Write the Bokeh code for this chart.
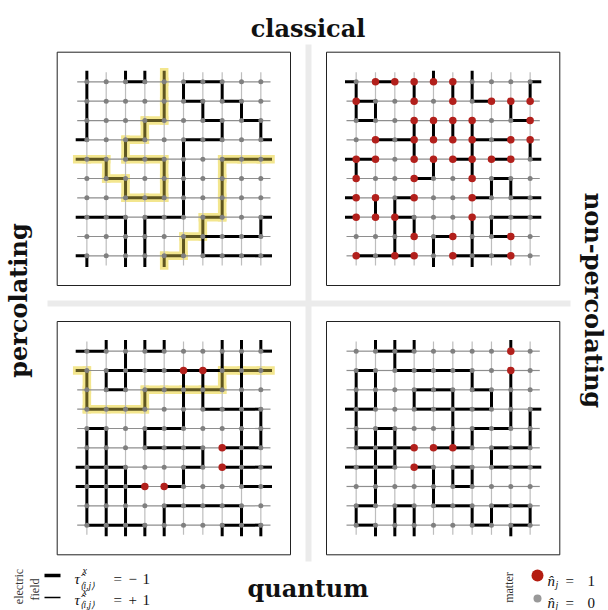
import numpy as np
from bokeh.plotting import figure
from bokeh.models import Range1d
from bokeh.core.properties import value
from bokeh.embed import file_html
from bokeh.resources import INLINE

# ---------------- data ----------------
# H rows: char c of row r -> link (r,c)-(r,c+1), c=9 wraps; '1' = tau^x = -1
# V rows: char c of row r -> link (r,c)-(r+1,c), r=9 wraps
# N rows: char c of row r -> n_j = 1
TL_H = ["0010011000", "0000010100", "0001001010", "0010011001", "1011000111",
        "0100000000", "0011000000", "1101101001", "0000011110", "0000101111"]
TL_V = ["1000110100", "1000101010", "1001000101", "0010010000", "0100110100",
        "0010110100", "0000010100", "0011001001", "0011011000", "1011100000"]
TL_N = ["0000000000"] * 10
TL_YH = ["0000000000", "0000000000", "0001000000", "0010000000", "1011000111",
         "0100000000", "0011000000", "0000001000", "0000010000", "0000100000"]
TL_YV = ["0000100000", "0000100000", "0001000000", "0010000000", "0100100100",
         "0010100100", "0000000100", "0000001000", "0000010000", "0000100000"]

TR_H = ["0100000001", "1000001000", "1000000010", "0110001100", "1000010101",
        "0001000100", "0010001011", "0010000111", "0000100100", "1110011100"]
TR_V = ["1001011001", "1100000010", "0001111000", "0001001001", "1000101000",
        "0000000110", "0110000000", "0011001100", "0010101000", "0000101000"]
TR_N = ["0111110000", "1001010111", "0001111001", "0101111011", "1101111110",
        "1001001000", "1101001000", "1110001000", "0001010010", "1011010010"]

BL_H = ["1001000001", "0111111111", "0101111000", "1110001110", "1001100000",
        "0001110110", "1100010111", "1110100011", "0000111100", "1110000110"]
BL_V = ["0010000110", "1110011110", "1001011010", "0000010011", "1101000011",
        "1100001010", "1110010010", "1110000000", "1110100010", "0111100111"]
BL_N = ["0000000000", "0000011000", "0000000000", "0000000000", "0000000000",
        "0000000100", "0000000100", "0001100000", "0000000000", "0000000000"]
BL_YH = ["0000000000", "0000000111", "0001111000", "1110000000", "0000000000",
         "0000000000", "0000000000", "0000000000", "0000000000", "0000000000"]
BL_YV = ["0000000000", "1000000100", "1001000000", "0000000000", "0000000000",
         "0000000000", "0000000000", "0000000000", "0000000000", "0000000000"]

BR_H = ["0110000000", "1011110000", "0001101000", "1001111001", "0100001100",
        "1110110110", "1101010111", "0000010000", "1010110110", "1000001010"]
BR_V = ["0010000000", "1100001010", "1101010110", "1000010011", "1110011001",
        "0110000100", "0100111000", "0100100000", "1011001101", "0111000010"]
BR_N = ["0000000010", "0000000010", "0000000000", "0000000000", "0000000000",
        "0001110000", "0001000000", "0000000000", "0000000000", "0000000000"]

EMPTY = ["0000000000"] * 10

TITLES = ["classical", "quantum"]
SIDE_TITLES = ["percolating", "non-percolating"]
LEGEND_FIELD = ["electric", "field"]
LEGEND_MATTER = ["matter"]
FIELD_SIGNS = ["\u2212", "+"]
FIELD_VALUES = ["1", "1"]
MATTER_VALUES = ["1", "0"]

# ---------------- layout ----------------
W, H = 608, 610
S = 19.33          # lattice spacing (px)
FR = 233.3         # panel frame size (px)
M = (FR - 9 * S) / 2
PX = [56.7, 326.0]
PY = [51.7, 321.0]

BLACK = "#000000"
OLIVE = "#5e5520"
YELLOW = "#f3e68e"
RED = "#b2201c"
GRAY = "#808080"
HGRID = "#8e8e8e"
VGRID = "#bdbdbd"

p = figure(width=W, height=H, x_range=Range1d(0, W), y_range=Range1d(H, 0),
           output_backend="svg", toolbar_location=None, min_border=0)
p.axis.visible = False
p.grid.visible = False
p.outline_line_color = None
p.background_fill_color = "white"
p.border_fill_color = "white"

# separators
p.quad(left=[305.0, 47.0], right=[311.0, 570.0], top=[44.0, 300.0], bottom=[561.0, 306.0],
       fill_color="#ebebeb", line_color=None)


def segs(Hs, Vs, ox, oy):
    d = dict(x0=[], y0=[], x1=[], y1=[])

    def add(c0, r0, c1, r1):
        d["x0"].append(ox + M + c0 * S); d["y0"].append(oy + M + r0 * S)
        d["x1"].append(ox + M + c1 * S); d["y1"].append(oy + M + r1 * S)

    for r, row in enumerate(Hs):
        for c, ch in enumerate(row):
            if ch == "1":
                if c < 9:
                    add(c, r, c + 1, r)
                else:
                    add(9, r, 9.5, r); add(-0.5, r, 0, r)
    for r, row in enumerate(Vs):
        for c, ch in enumerate(row):
            if ch == "1":
                if r < 9:
                    add(c, r, c, r + 1)
                else:
                    add(c, 9, c, 9.5); add(c, -0.5, c, 0)
    return d


def minus(A, B):
    return ["".join("1" if a == "1" and b == "0" else "0" for a, b in zip(ra, rb)) for ra, rb in zip(A, B)]


panels = [
    (PX[0], PY[0], TL_H, TL_V, TL_N, TL_YH, TL_YV),
    (PX[1], PY[0], TR_H, TR_V, TR_N, EMPTY, EMPTY),
    (PX[0], PY[1], BL_H, BL_V, BL_N, BL_YH, BL_YV),
    (PX[1], PY[1], BR_H, BR_V, BR_N, EMPTY, EMPTY),
]

FULL = ["1111111111"] * 10
for ox, oy, Hs, Vs, Ns, YH, YV in panels:
    p.quad(left=[ox], right=[ox + FR], top=[oy], bottom=[oy + FR],
           fill_color="white", line_color="#222222", line_width=1)
    yd = segs(YH, YV, ox, oy)
    p.segment(**yd, line_color=YELLOW, line_width=8.5, line_cap="square")
    p.segment(**segs(EMPTY, FULL, ox, oy), line_color=VGRID, line_width=1.2)
    p.segment(**segs(FULL, EMPTY, ox, oy), line_color=HGRID, line_width=1.2)
    p.segment(**segs(minus(Hs, YH), minus(Vs, YV), ox, oy), line_color=BLACK,
              line_width=3, line_cap="square")
    p.segment(**yd, line_color=OLIVE, line_width=3, line_cap="square")
    gx, gy, rx, ry = [], [], [], []
    for r, row in enumerate(Ns):
        for c, ch in enumerate(row):
            (rx if ch == "1" else gx).append(ox + M + c * S)
            (ry if ch == "1" else gy).append(oy + M + r * S)
    p.scatter(gx, gy, size=5, fill_color=GRAY, line_color=None)
    p.scatter(rx, ry, size=7.5, fill_color=RED, line_color=None)

SERIF_B = dict(text_font=value("DejaVu Serif"), text_font_style="bold",
               text_font_size="24px", text_color="#111111")
p.text(x=[307.5, 307.5], y=[28, 588], text=TITLES, text_align="center",
       text_baseline="alphabetic", **SERIF_B)
p.text(x=[18], y=[300], text=[SIDE_TITLES[0]], angle=np.pi / 2, text_align="center",
       text_baseline="middle", **SERIF_B)
p.text(x=[593], y=[300], text=[SIDE_TITLES[1]], angle=-np.pi / 2, text_align="center",
       text_baseline="middle", **SERIF_B)

# legend: electric field
SMALL = dict(text_font=value("Liberation Serif"), text_font_size="12px", text_color="#333333",
             text_align="center", text_baseline="middle")
p.text(x=[18, 34], y=[586, 589], text=LEGEND_FIELD, angle=np.pi / 2, **SMALL)
p.segment(x0=[44], y0=[575], x1=[60], y1=[575], line_color=BLACK, line_width=3.5)
p.segment(x0=[44], y0=[597], x1=[60], y1=[597], line_color=BLACK, line_width=1.3)
MATH = dict(text_font=value("Liberation Serif"), text_color="#111111",
            text_baseline="alphabetic")
for k, (yb, ys) in enumerate([(578, 585), (599, 604)]):
    p.text(x=[74], y=[yb], text=["\u03c4\u0302"], text_font_style="italic",
           text_font_size="15px", **MATH)
    p.text(x=[82], y=[yb - 8], text=["x"], text_font_style="italic",
           text_font_size="10px", **MATH)
    p.text(x=[79], y=[ys], text=["\u27e8i,j\u27e9"], text_font_style="italic",
           text_font_size="9.5px", **MATH)
    p.text(x=[113], y=[yb], text=["="], text_font_size="15px", **MATH)
    p.text(x=[128], y=[yb], text=[FIELD_SIGNS[k]], text_font_size="15px", **MATH)
    p.text(x=[142], y=[yb], text=[FIELD_VALUES[k]], text_font_size="15px", **MATH)

# legend: matter
p.text(x=[508], y=[587], text=LEGEND_MATTER, angle=np.pi / 2, **SMALL)
p.scatter([537], [575], size=12, fill_color="#b41c10", line_color=None)
p.scatter([537], [598], size=8, fill_color="#999999", line_color=None)
for k, yb in enumerate([580, 602]):
    p.text(x=[547], y=[yb], text=["n\u0302"], text_font_style="italic",
           text_font_size="15px", **MATH)
    p.text(x=[555], y=[min(yb + 4, 605)], text=["j"], text_font_style="italic",
           text_font_size="10px", **MATH)
    p.text(x=[565], y=[yb], text=["="], text_font_size="15px", **MATH)
    p.text(x=[587], y=[yb], text=[MATTER_VALUES[k]], text_font_size="15px", **MATH)

open("out.html", "w").write(file_html(p, INLINE))
